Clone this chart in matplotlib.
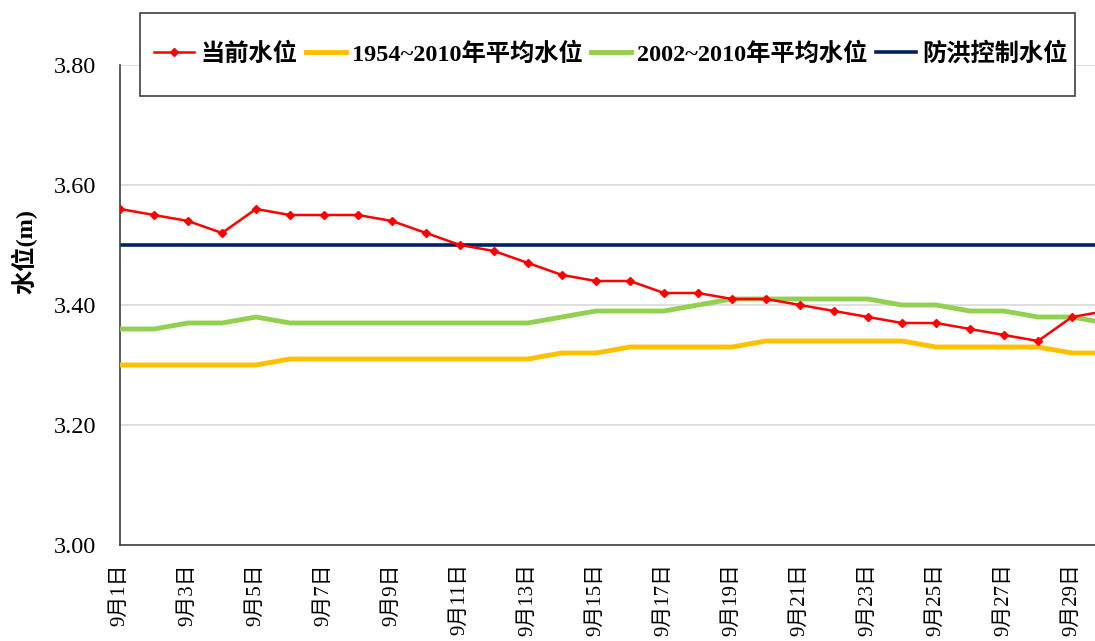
import matplotlib
matplotlib.use('Agg')
import matplotlib.pyplot as plt
from matplotlib.patches import Rectangle

# 9月每日水位 (m)
days = list(range(1, 31))
current = [3.56, 3.55, 3.54, 3.52, 3.56, 3.55, 3.55, 3.55, 3.54, 3.52,
           3.50, 3.49, 3.47, 3.45, 3.44, 3.44, 3.42, 3.42, 3.41, 3.41,
           3.40, 3.39, 3.38, 3.37, 3.37, 3.36, 3.35, 3.34, 3.38, 3.39]
avg_1954_2010 = [3.30, 3.30, 3.30, 3.30, 3.30, 3.31, 3.31, 3.31, 3.31, 3.31,
                 3.31, 3.31, 3.31, 3.32, 3.32, 3.33, 3.33, 3.33, 3.33, 3.34,
                 3.34, 3.34, 3.34, 3.34, 3.33, 3.33, 3.33, 3.33, 3.32, 3.32]
avg_2002_2010 = [3.36, 3.36, 3.37, 3.37, 3.38, 3.37, 3.37, 3.37, 3.37, 3.37,
                 3.37, 3.37, 3.37, 3.38, 3.39, 3.39, 3.39, 3.40, 3.41, 3.41,
                 3.41, 3.41, 3.41, 3.40, 3.40, 3.39, 3.39, 3.38, 3.38, 3.37]
flood_control = [3.50] * 30
tick_days = list(range(1, 30, 2))
tick_labels = ['9月%d日' % d for d in tick_days]
yticks = [3.0, 3.2, 3.4, 3.6, 3.8]
series_names = ['当前水位', '1954~2010年平均水位', '2002~2010年平均水位', '防洪控制水位']

fam = ['Liberation Serif', 'Noto Sans CJK SC']
W, H = 1095, 641

fig = plt.figure(figsize=(10.95, 6.41), dpi=100)
ax = fig.add_axes([120 / W, 1 - 545 / H, 1 - 120 / W, (545 - 65) / H])

l1, = ax.plot(days, current, color='#FF0000', lw=1.8, marker='D', ms=4.5, zorder=5)
l2, = ax.plot(days, avg_1954_2010, color='#FFC000', lw=3.5, zorder=3)
l3, = ax.plot(days, avg_2002_2010, color='#92D050', lw=3.5, zorder=4)
l4, = ax.plot(days, flood_control, color='#002060', lw=2.6, zorder=2)

ax.set_ylim(3.0, 3.8)
ax.set_xlim(1, 1 + 975 / 34)
ax.set_yticks(yticks)
ax.set_yticklabels(['%.2f' % v for v in yticks], family=fam, fontsize=17.5)
ax.set_xticks(tick_days)
ax.set_xticklabels(tick_labels, rotation=90, family=fam, fontsize=15, va='top')
ax.tick_params(axis='y', length=0, pad=17)
ax.tick_params(axis='x', length=0, pad=13)
ax.yaxis.grid(True, color='#D9D9D9', lw=1.2)
ax.set_axisbelow(True)
for s in ['top', 'right']:
    ax.spines[s].set_visible(False)
for s in ['left', 'bottom']:
    ax.spines[s].set_color('#404040')
    ax.spines[s].set_linewidth(1.2)

ax.set_ylabel('水位(m)', family=fam, fontsize=17.5, fontweight='bold')
ax.yaxis.set_label_coords((38 - 120) / 975, (545 - 252) / 480)

# legend box
box = Rectangle((140 / W, 1 - 96 / H), 935 / W, 83 / H, transform=fig.transFigure,
                facecolor='white', edgecolor='#404040', lw=1.2, zorder=4)
fig.add_artist(box)
leg = fig.legend([l1, l2, l3, l4], series_names, loc='center', ncol=4,
                 bbox_to_anchor=(611 / W, 1 - 54 / H),
                 prop={'family': fam, 'size': 17.5, 'weight': 'bold'},
                 frameon=False, handlelength=1.65, handletextpad=0.25,
                 columnspacing=0.35)
leg.set_zorder(5)

plt.savefig('out.png', dpi=100)
